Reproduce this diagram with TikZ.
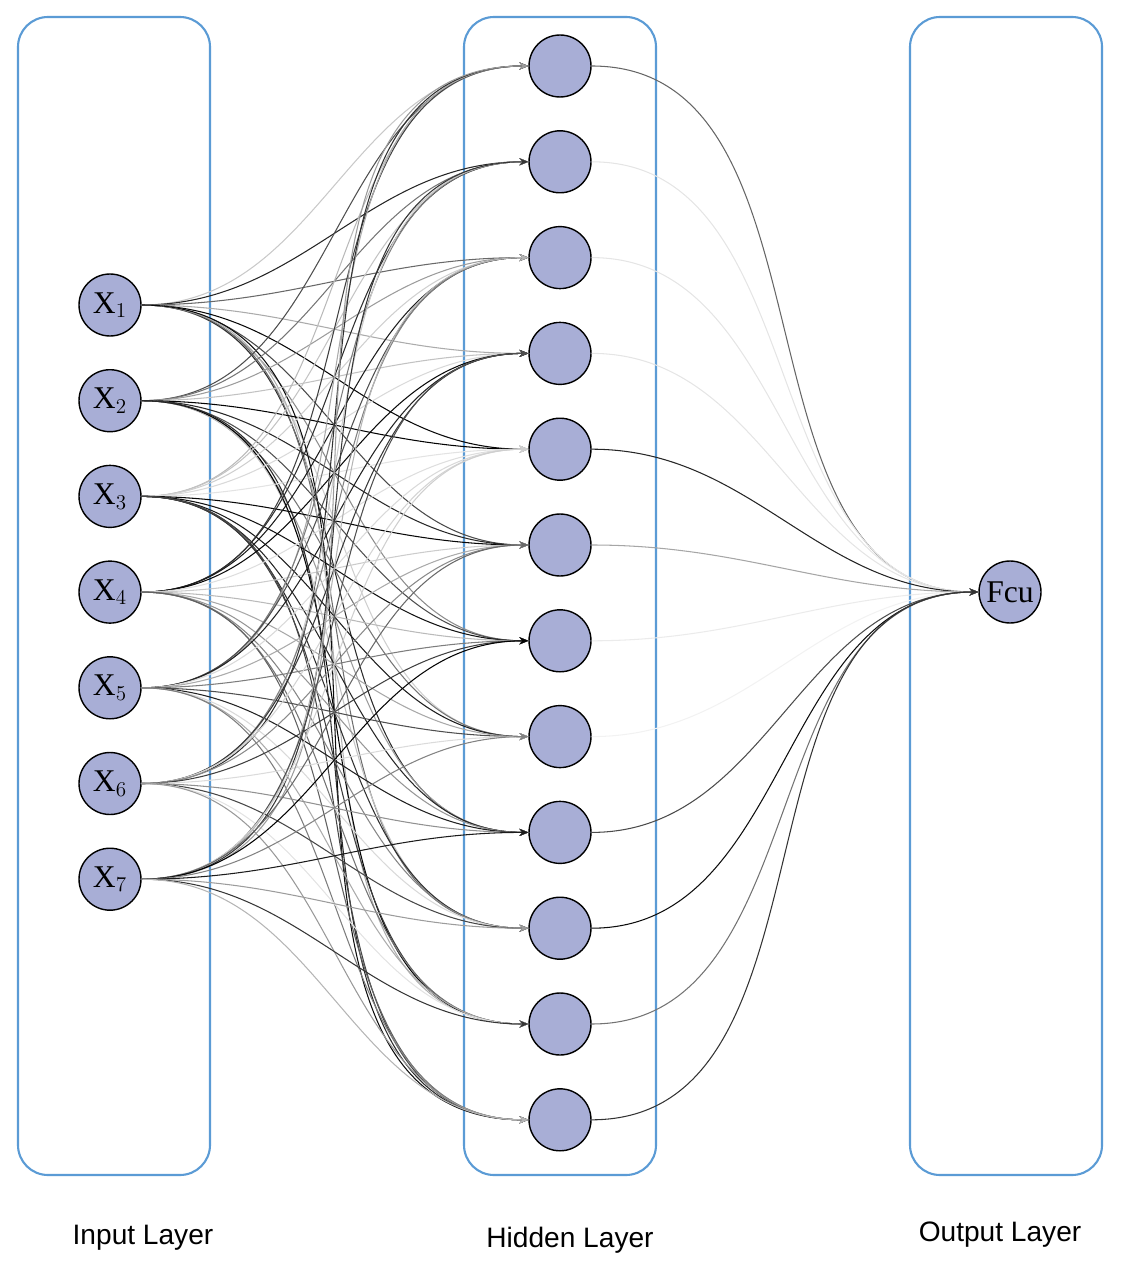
\documentclass[tikz,border=0pt]{standalone}
\usepackage{fontspec}
\setmainfont{Liberation Serif}
\setsansfont{Liberation Sans}
\usetikzlibrary{arrows.meta}

\definecolor{neuronfill}{RGB}{168,174,214}
\tikzset{
  neuron/.style={circle,draw=black,thick,fill=neuronfill,minimum size=1.24cm,inner sep=0pt,font=\fontsize{18}{18}\selectfont},
  layerbox/.style={draw={rgb,255:red,91;green,155;blue,213},line width=1.2pt,rounded corners=0.6cm},
  layerlabel/.style={font=\sffamily\fontsize{16}{16}\selectfont},
  synapse/.style={-{Stealth[length=5pt,width=4pt]},line width=0.6pt}
}

\begin{document}
\begin{tikzpicture}[x=0.02cm,y=-0.02cm]
\useasboundingbox (0,0) rectangle (1120,1273);

%LAYER BOXES
\draw[layerbox] (18,17) rectangle (210,1175);
\draw[layerbox] (464,17) rectangle (656,1175);
\draw[layerbox] (910,17) rectangle (1102,1175);

%NEURONS
\foreach \i in {1,...,7}
  \node[neuron] (in\i) at (110,{305+95.7*(\i-1)}) {X$_{\i}$};
\foreach \j in {1,...,12}
  \node[neuron] (hid\j) at (560,{66+95.8*(\j-1)}) {};
\node[neuron] (out) at (1010,592) {Fcu};

%CONNECTIONS
% input to hidden
\foreach \i in {1,...,7}
  \foreach \j in {1,...,12}{
    \pgfmathtruncatemacro{\shade}{mod(\i*37+\j*53+\i*\j*11,90)+10}
    \draw[synapse,draw=black!\shade] (in\i) to[out=0,in=180] (hid\j);
  }
% hidden to output
\foreach \j/\shade in {1/60,2/10,3/10,4/10,5/85,6/35,7/8,8/5,9/70,10/95,11/55,12/80}
  \draw[synapse,draw=black!\shade] (hid\j) to[out=0,in=180] (out);

%LABELS
\node[layerlabel] (inlabel) at (143,1238) {Input Layer};
\node[layerlabel] (hidlabel) at (570,1240) {Hidden Layer};
\node[layerlabel] (outlabel) at (1000,1235) {Output Layer};

\end{tikzpicture}
\end{document}
